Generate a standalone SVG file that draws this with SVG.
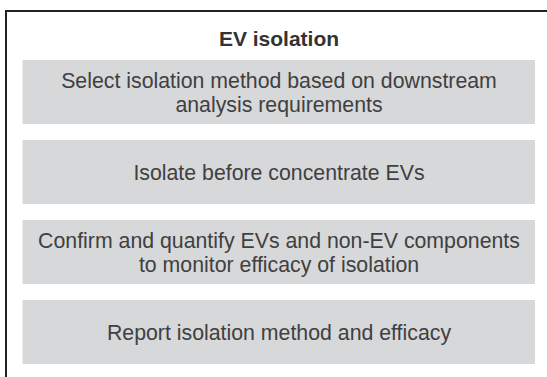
<svg xmlns="http://www.w3.org/2000/svg" width="547" height="377" viewBox="0 0 547 377">
<style>
.box{fill:#d7d8da}
.t{font-family:"Liberation Sans",Arial,sans-serif;font-size:21.3px;fill:#404040;text-anchor:middle}
.h{font-family:"Liberation Sans",Arial,sans-serif;font-size:21px;font-weight:bold;fill:#333;text-anchor:middle}
</style>
<rect width="547" height="377" fill="#fff"/>
<g id="frame">
<path d="M6 377 V11 H547" fill="none" stroke="#222" stroke-width="2"/>
<text class="h" x="279" y="46">EV isolation</text>
</g>
<g id="connectors"/>
<g id="n1"><rect class="box" x="22.5" y="60" width="512.5" height="64"/>
<text class="t" x="279" y="88">Select isolation method based on downstream</text>
<text class="t" x="279" y="112">analysis requirements</text></g>
<g id="n2"><rect class="box" x="22.5" y="140" width="512.5" height="64"/>
<text class="t" x="279" y="180">Isolate before concentrate EVs</text></g>
<g id="n3"><rect class="box" x="22.5" y="220" width="512.5" height="64"/>
<text class="t" x="279" y="248">Confirm and quantify EVs and non-EV components</text>
<text class="t" x="279" y="272">to monitor efficacy of isolation</text></g>
<g id="n4"><rect class="box" x="22.5" y="300" width="512.5" height="64"/>
<text class="t" x="279" y="340">Report isolation method and efficacy</text></g>
</svg>
